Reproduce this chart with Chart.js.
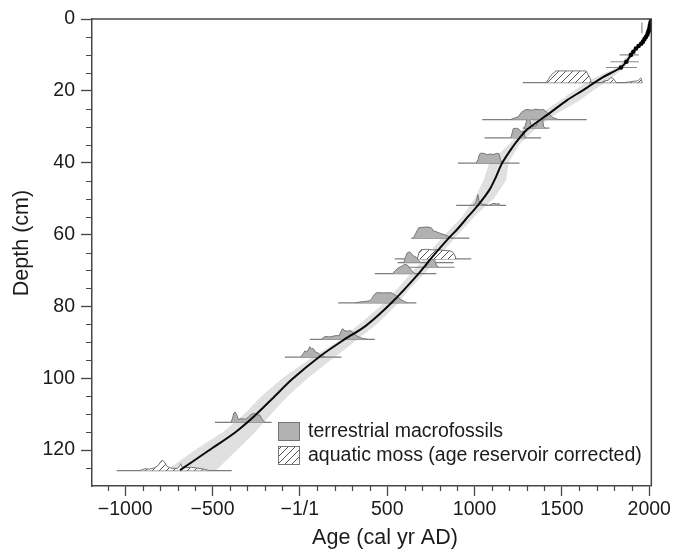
<!DOCTYPE html>
<html>
<head>
<meta charset="utf-8">
<script src="https://cdn.jsdelivr.net/npm/chart.js@4/dist/chart.umd.min.js"></script>
<style>
html,body{margin:0;padding:0;background:#fff;}
#wrap{width:673px;height:549px;}
</style>
</head>
<body>
<div id="wrap"><canvas id="c" width="673" height="549"></canvas></div>
<script>
const FONT = "'Liberation Sans', Arial, Helvetica, sans-serif";

// ---- axis ticks / titles ----
const xTickValues = [-1000, -500, 0, 500, 1000, 1500, 2000];
const xTickLabels = ['\u22121000', '\u2212500', '\u22121/1', '500', '1000', '1500', '2000'];
const yTickValues = [0, 20, 40, 60, 80, 100, 120];
const yTickLabels = ['0', '20', '40', '60', '80', '100', '120'];
const xTitle = 'Age (cal yr AD)';
const yTitle = 'Depth (cm)';
const legendLabels = ['terrestrial macrofossils', 'aquatic moss (age reservoir corrected)'];

// ---- 210Pb dated levels (dots) ----
const pbDepth = [0.1, 0.9, 1.7, 2.4, 3.1, 3.7, 4.4, 5.0, 5.6, 6.3, 6.9, 7.5, 8.2, 9.1, 10.0, 11.9, 13.5];
const pbAge   = [2010, 2008, 2004, 2002, 1998, 1994, 1989, 1981, 1973, 1964, 1954, 1939, 1924, 1909, 1895, 1869, 1838];
// horizontal error bars of the dots
const pbErrDepth = [10.0, 11.9, 13.5];
const pbErrMin   = [1830, 1778, 1752];
const pbErrMax   = [1940, 1940, 1930];
// small vertical error bar near the top
const pbVertAge = 1958;
const pbVertDepth = [1.0, 4.0];

// ---- age-depth model (black curve) ----
const modelDepth = [0.1, 0.9, 1.7, 2.4, 3.1, 3.7, 4.4, 5.0, 5.6, 6.3, 6.9, 7.5, 8.2, 9.1, 10.0, 11.9, 13.5,
  16.5, 20, 22.5, 26.2, 30.8, 33.1, 35.5, 40.1, 43.8, 47.5, 51.9, 54.9, 58.6, 61, 66, 71.6, 79, 85.5, 89.2, 94,
  100.3, 105.8, 110.5, 115.1, 120.2, 125.6];
const modelAge = [2010, 2008, 2004, 2002, 1998, 1994, 1989, 1981, 1973, 1964, 1954, 1939, 1924, 1909, 1895, 1869, 1838,
  1724, 1615, 1532, 1430, 1300, 1258, 1220, 1158, 1124, 1086, 1019, 965, 900, 852, 762, 667, 525, 375, 255, 112,
  -45, -160, -260, -371, -524, -686];

// ---- confidence envelope (grey band) ----
const bandDepth = [0, 5, 10, 13.5, 17, 20, 23, 26, 30, 35, 40, 45, 50, 55, 60, 65, 70, 75, 80, 85, 90, 95, 100, 105, 110, 115, 120, 125.7];
const bandMin = [2008, 1975, 1880, 1815, 1660, 1568, 1480, 1390, 1290, 1195, 1085, 1050, 1000, 930, 830, 740, 650, 560, 460, 340, 210, 45, -100, -220, -320, -440, -600, -765];
const bandMax = [2012, 1990, 1905, 1860, 1768, 1678, 1592, 1480, 1360, 1255, 1195, 1180, 1110, 1000, 905, 815, 730, 630, 545, 440, 310, 175, 45, -70, -165, -255, -360, -480];

// ---- calibrated radiocarbon dates ----
const dateDepth  = [17.7, 28.0, 30.4, 33.1, 40.1, 51.9, 61.0, 66.8, 67.8, 69.1, 70.9, 79.0, 89.2, 94.1, 112.3, 125.7];
const dateMinAge = [1276, 1044, 1276, 1057, 905, 895, 638, 543, 560, 619, 429, 219, 57, -86, -486, -1048];
const dateMaxAge = [1962, 1642, 1429, 1381, 1257, 1181, 971, 981, 880, 886, 781, 667, 429, 238, -162, -390];
const dateType   = ['moss', 'terr', 'terr', 'terr', 'terr', 'terr', 'terr', 'moss', 'terr', 'terr', 'terr', 'terr', 'terr', 'terr', 'terr', 'moss'];
// probability profiles: [age, height in cm above the baseline]
const prob1 = [[1410,0],[1440,2.2],[1467,3.25],[1638,3.25],[1660,1.4],[1668,0],[1725,0],[1745,0.5],[1765,0.6],[1778,1.4],[1792,1.2],[1812,0],[1860,0],[1900,0.3],[1935,0.5],[1952,1.3],[1960,0]];
const prob2 = [[1205,0],[1222,0.3],[1250,0.8],[1268,2.0],[1285,2.6],[1300,2.8],[1330,2.6],[1350,2.9],[1375,2.7],[1395,2.8],[1420,1.8],[1448,0.6],[1480,0]];
const prob3 = [[1285,0],[1295,1.5],[1305,3.1],[1315,2.5],[1325,0.6],[1350,0.5],[1363,2.0],[1375,3.2],[1388,3.0],[1395,0.5],[1405,0]];
const prob4 = [[1208,0],[1216,1.5],[1222,2.6],[1240,2.7],[1255,2.4],[1268,1.6],[1280,1.9],[1290,0]];
const prob5 = [[1010,0],[1020,1.0],[1028,2.5],[1040,2.8],[1060,2.6],[1070,2.3],[1085,2.5],[1110,2.4],[1125,2.7],[1140,2.6],[1148,1.0],[1158,0]];
const prob6 = [[990,0],[1005,0.6],[1012,1.5],[1019,3.0],[1026,1.2],[1040,0.4],[1060,0.2],[1080,0],[1095,0.3],[1110,0.6],[1125,0.4],[1140,0.5],[1150,0]];
const prob7 = [[650,0],[662,1.2],[680,2.9],[700,3.0],[730,3.1],[752,2.9],[765,2.0],[780,1.8],[800,1.4],[830,0.9],[850,0.5],[875,0]];
const prob8 = [[672,0],[682,1.8],[695,2.6],[730,2.7],[760,2.5],[790,2.6],[819,2.4],[850,2.3],[872,2.1],[886,1.1],[895,0]];
const prob9 = [[595,0],[605,1.5],[615,2.7],[628,3.0],[640,2.4],[652,1.8],[668,1.4],[682,0.5],[692,0]];
const prob10 = [[720,0],[730,1.0],[740,2.2],[755,2.4],[770,2.0],[785,0.3],[795,0]];
const prob11 = [[530,0],[545,0.8],[560,1.5],[580,2.0],[600,2.6],[615,2.4],[630,1.5],[645,0.6],[660,0]];
const prob12 = [[320,0],[340,0.2],[360,0.3],[380,0.4],[400,0.6],[410,1.0],[425,2.2],[438,2.8],[480,2.75],[524,2.8],[550,2.0],[575,1.0],[600,0.3],[615,0]];
const prob13 = [[125,0],[135,0.6],[150,0.8],[170,0.7],[190,0.9],[210,1.1],[225,1.0],[235,2.2],[245,3.0],[258,2.4],[275,2.3],[290,2.5],[305,1.8],[325,1.0],[345,0.5],[370,0.2],[390,0]];
const prob14 = [[5,0],[20,1.0],[29,1.7],[40,1.4],[50,2.2],[57,2.9],[66,2.2],[76,2.4],[90,1.4],[105,1.1],[120,0.5],[143,0]];
const prob15 = [[-395,0],[-385,1.2],[-378,2.6],[-370,2.9],[-362,2.2],[-352,0.8],[-337,1.0],[-310,0.9],[-295,1.5],[-280,2.2],[-260,2.5],[-245,2.2],[-229,2.0],[-215,0.8],[-200,0]];
const prob16 = [[-920,0],[-900,0.3],[-886,0.5],[-860,0.4],[-830,0.8],[-810,1.5],[-795,2.6],[-785,2.8],[-775,2.4],[-762,1.2],[-745,0.8],[-727,0.6],[-700,0.6],[-690,1.2],[-682,1.9],[-675,1.0],[-660,0.8],[-620,0.9],[-590,0.7],[-560,0.5],[-533,0.2],[-520,0]];
const probs = [prob1, prob2, prob3, prob4, prob5, prob6, prob7, prob8, prob9, prob10, prob11, prob12, prob13, prob14, prob15, prob16];

// ---- styles ----
const GREY_FILL = '#b1b1b1';
const GREY_EDGE = '#757575';
const BAND = '#e0e0e0';
const AXIS = '#474747';
const TEXT = '#1b1b1b';

function makeHatch() {
  const s = 7;
  const c = document.createElement('canvas');
  c.width = s; c.height = s;
  const g = c.getContext('2d');
  g.fillStyle = '#ffffff';
  g.fillRect(0, 0, s, s);
  g.strokeStyle = '#555555';
  g.lineWidth = 1;
  g.beginPath();
  g.moveTo(0, s); g.lineTo(s, 0);
  g.moveTo(-1, 1); g.lineTo(1, -1);
  g.moveTo(s - 1, s + 1); g.lineTo(s + 1, s - 1);
  g.stroke();
  return g.createPattern(c, 'repeat');
}
const HATCH = makeHatch();

// ---- datasets ----
const datasets = [];

// confidence band polygon
const bandPts = [];
for (let i = 0; i < bandDepth.length; i++) bandPts.push({x: bandMin[i], y: bandDepth[i]});
for (let i = bandDepth.length - 1; i >= 0; i--) bandPts.push({x: bandMax[i], y: bandDepth[i]});
datasets.push({data: bandPts, fill: 'shape', backgroundColor: BAND, borderWidth: 0, borderColor: 'rgba(0,0,0,0)', pointRadius: 0, order: 30});

// baselines + probability shapes
for (let i = 0; i < dateDepth.length; i++) {
  datasets.push({
    data: [{x: dateMinAge[i], y: dateDepth[i]}, {x: dateMaxAge[i], y: dateDepth[i]}],
    borderColor: '#7d7d7d', borderWidth: 1.2, pointRadius: 0, fill: false, order: 25
  });
  const pts = probs[i].map(p => ({x: p[0], y: dateDepth[i] - p[1]}));
  datasets.push({
    data: pts, fill: 'shape',
    backgroundColor: dateType[i] === 'moss' ? HATCH : GREY_FILL,
    borderColor: GREY_EDGE, borderWidth: 1, pointRadius: 0, order: 20
  });
}

// error bars on the 210Pb dots
for (let i = 0; i < pbErrDepth.length; i++) {
  datasets.push({
    data: [{x: pbErrMin[i], y: pbErrDepth[i]}, {x: pbErrMax[i], y: pbErrDepth[i]}],
    borderColor: '#8a8a8a', borderWidth: 1.2, pointRadius: 0, fill: false, order: 3
  });
}
datasets.push({
  data: [{x: pbVertAge, y: pbVertDepth[0]}, {x: pbVertAge, y: pbVertDepth[1]}],
  borderColor: '#8a8a8a', borderWidth: 1.2, pointRadius: 0, fill: false, order: 3
});

// model curve
datasets.push({
  data: modelDepth.map((d, i) => ({x: modelAge[i], y: d})),
  borderColor: '#0a0a0a', borderWidth: 2, pointRadius: 0, fill: false, tension: 0.3, order: 2
});

// dots
datasets.push({
  data: pbDepth.map((d, i) => ({x: pbAge[i], y: d})),
  showLine: false, pointRadius: 2.3, pointBackgroundColor: '#000', pointBorderColor: '#000', pointBorderWidth: 0, order: 1
});

// ---- overlay plugin: frame, minor ticks, axis titles, legend ----
const overlay = {
  id: 'overlay',
  afterDraw(chart) {
    const {ctx, chartArea: a, scales: {x, y}} = chart;
    ctx.save();
    // frame top + right
    ctx.strokeStyle = AXIS;
    ctx.lineWidth = 1.5;
    ctx.beginPath();
    ctx.moveTo(a.left, a.top);
    ctx.lineTo(a.right, a.top);
    ctx.lineTo(a.right, a.bottom);
    ctx.stroke();
    // minor ticks
    ctx.lineWidth = 1.2;
    ctx.beginPath();
    for (let v = -1100; v <= 2000; v += 100) {
      if (v % 500 === 0) continue;
      const px = Math.round(x.getPixelForValue(v)) + 0.5;
      ctx.moveTo(px, a.bottom); ctx.lineTo(px, a.bottom + 5);
    }
    for (let v = 5; v <= 125; v += 5) {
      if (v % 20 === 0) continue;
      const py = Math.round(y.getPixelForValue(v)) + 0.5;
      ctx.moveTo(a.left, py); ctx.lineTo(a.left - 6, py);
    }
    ctx.stroke();
    // axis titles
    ctx.fillStyle = TEXT;
    ctx.font = '21.5px ' + FONT;
    ctx.textAlign = 'center';
    ctx.textBaseline = 'middle';
    ctx.fillText(xTitle, 385, 538);
    ctx.save();
    ctx.translate(22, 243);
    ctx.rotate(-Math.PI / 2);
    ctx.fillText(yTitle, 0, 0);
    ctx.restore();
    // legend
    ctx.lineWidth = 1;
    ctx.strokeStyle = GREY_EDGE;
    ctx.fillStyle = GREY_FILL;
    ctx.fillRect(278.5, 422.5, 21, 18);
    ctx.strokeRect(278.5, 422.5, 21, 18);
    ctx.fillStyle = HATCH;
    ctx.fillRect(278.5, 446.5, 21, 18);
    ctx.strokeRect(278.5, 446.5, 21, 18);
    ctx.fillStyle = TEXT;
    ctx.font = '19.5px ' + FONT;
    ctx.textAlign = 'left';
    ctx.textBaseline = 'alphabetic';
    ctx.fillText(legendLabels[0], 308, 437);
    ctx.fillText(legendLabels[1], 308, 461);
    ctx.restore();
  }
};

new Chart(document.getElementById('c'), {
  type: 'line',
  data: {datasets},
  options: {
    responsive: false,
    animation: false,
    devicePixelRatio: 1,
    layout: {padding: {top: 19, right: 20, left: 0, bottom: 0}},
    plugins: {legend: {display: false}, tooltip: {enabled: false}},
    scales: {
      x: {
        type: 'linear', position: 'bottom', min: -1190, max: 2012,
        afterBuildTicks: s => { s.ticks = xTickValues.map(v => ({value: v})); },
        afterFit: s => { s.height = 63; },
        ticks: {
          autoSkip: false, maxRotation: 0, padding: 2, color: TEXT,
          font: {size: 19.5, family: FONT},
          callback: v => xTickLabels[xTickValues.indexOf(v)]
        },
        grid: {display: true, drawOnChartArea: false, drawTicks: true, tickLength: 10, tickColor: AXIS, tickWidth: 1.3},
        border: {display: true, color: AXIS, width: 1.5}
      },
      y: {
        type: 'linear', position: 'left', reverse: true, min: 0, max: 130,
        afterBuildTicks: s => { s.ticks = yTickValues.map(v => ({value: v})); },
        afterFit: s => { s.width = 92; },
        ticks: {
          autoSkip: false, padding: 6, color: TEXT,
          font: {size: 19.5, family: FONT},
          callback: v => yTickLabels[yTickValues.indexOf(v)]
        },
        grid: {display: true, drawOnChartArea: false, drawTicks: true, tickLength: 11, tickColor: AXIS, tickWidth: 1.3},
        border: {display: true, color: AXIS, width: 1.5}
      }
    }
  },
  plugins: [overlay]
});
</script>
</body>
</html>
